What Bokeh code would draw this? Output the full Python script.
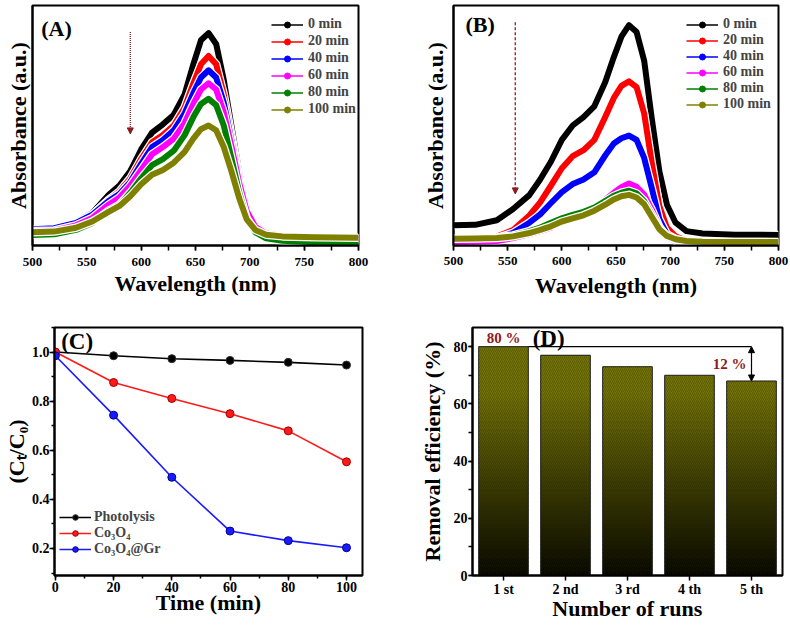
from bokeh.plotting import figure
from bokeh.layouts import column, row
from bokeh.models import (Legend, LegendItem, Arrow, NormalHead, Label, Range1d,
                          SingleIntervalTicker, FixedTicker, NumeralTickFormatter)
from bokeh.embed import file_html
from bokeh.resources import INLINE

FONT = "Liberation Serif"
NAN = float("nan")

# ---------------- data ----------------
wavelength = [500, 520, 540, 555, 570, 580, 590, 600, 610, 620, 630, 640, 648,
              655, 662, 669, 676, 683, 690, 697, 705, 715, 730, 760, 800]
time_labels = ["0 min", "20 min", "40 min", "60 min", "80 min", "100 min"]
series_colors = ["#000000", "#ff0000", "#0000ff", "#ff00ff", "#008000", "#808000"]

# (A) absorbance spectra, arbitrary units
abs_a_0 = [0.065, 0.068, 0.095, 0.135, 0.21, 0.25, 0.31, 0.40, 0.47, 0.505, 0.545, 0.63, 0.755,
           0.855, 0.885, 0.84, 0.69, 0.50, 0.31, 0.16, 0.085, 0.055, 0.042, 0.035, 0.03]
abs_a_20 = [0.062, 0.066, 0.09, 0.128, 0.19, 0.225, 0.28, 0.36, 0.43, 0.46, 0.50, 0.575, 0.675,
            0.755, 0.79, 0.755, 0.63, 0.46, 0.29, 0.155, 0.08, 0.05, 0.04, 0.032, 0.028]
abs_a_40 = [0.068, 0.072, 0.094, 0.128, 0.185, 0.215, 0.265, 0.34, 0.41, 0.44, 0.48, 0.55, 0.635,
            0.70, 0.73, 0.70, 0.595, 0.44, 0.28, 0.15, 0.08, 0.05, 0.04, 0.032, 0.027]
abs_a_60 = [0.06, 0.063, 0.084, 0.115, 0.17, 0.20, 0.25, 0.315, 0.38, 0.41, 0.445, 0.51, 0.59,
            0.65, 0.676, 0.65, 0.555, 0.415, 0.265, 0.145, 0.078, 0.05, 0.04, 0.032, 0.026]
abs_a_80 = [0.044, 0.047, 0.065, 0.094, 0.145, 0.17, 0.22, 0.28, 0.335, 0.36, 0.395, 0.46, 0.535,
            0.59, 0.611, 0.585, 0.50, 0.365, 0.225, 0.115, 0.055, 0.03, 0.02, 0.014, 0.012]
abs_a_100 = [0.055, 0.058, 0.074, 0.10, 0.14, 0.165, 0.205, 0.255, 0.295, 0.315, 0.345, 0.39, 0.445,
             0.485, 0.50, 0.48, 0.41, 0.31, 0.20, 0.11, 0.065, 0.045, 0.038, 0.034, 0.032]

# (B) absorbance spectra, arbitrary units
abs_b_0 = [0.084, 0.086, 0.105, 0.152, 0.21, 0.275, 0.35, 0.44, 0.50, 0.535, 0.58, 0.68, 0.785,
           0.87, 0.918, 0.89, 0.77, 0.53, 0.31, 0.17, 0.095, 0.06, 0.05, 0.045, 0.044]
abs_b_20 = [0.02, 0.022, 0.037, 0.065, 0.125, 0.18, 0.25, 0.322, 0.372, 0.397, 0.44, 0.535, 0.615,
            0.665, 0.684, 0.66, 0.55, 0.345, 0.165, 0.074, 0.038, 0.02, 0.015, 0.012, 0.01]
abs_b_40 = [0.02, 0.022, 0.03, 0.053, 0.095, 0.13, 0.177, 0.222, 0.256, 0.275, 0.305, 0.375, 0.425,
            0.447, 0.458, 0.44, 0.365, 0.24, 0.11, 0.047, 0.027, 0.016, 0.012, 0.01, 0.008]
abs_b_60 = [0.015, 0.016, 0.019, 0.031, 0.048, 0.06, 0.074, 0.102, 0.118, 0.137, 0.158, 0.19, 0.22,
            0.243, 0.258, 0.245, 0.212, 0.15, 0.078, 0.035, 0.018, 0.009, 0.007, 0.006, 0.005]
abs_b_80 = [0.03, 0.031, 0.033, 0.042, 0.06, 0.075, 0.095, 0.113, 0.128, 0.14, 0.158, 0.185, 0.207,
            0.22, 0.228, 0.217, 0.185, 0.13, 0.072, 0.04, 0.024, 0.016, 0.013, 0.012, 0.012]
abs_b_100 = [0.028, 0.029, 0.031, 0.038, 0.052, 0.065, 0.08, 0.10, 0.113, 0.126, 0.145, 0.17, 0.192,
             0.205, 0.211, 0.20, 0.172, 0.12, 0.068, 0.04, 0.026, 0.019, 0.016, 0.015, 0.015]

# (C) kinetics
time_min = [0, 20, 40, 60, 80, 100]
photolysis = [1.0, 0.985, 0.973, 0.966, 0.958, 0.947]
co3o4 = [1.0, 0.876, 0.811, 0.749, 0.679, 0.553]
co3o4_gr = [0.985, 0.743, 0.49, 0.271, 0.232, 0.203]
kinetic_names = ["Photolysis", "Co\u2083O\u2084", "Co\u2083O\u2084@Gr"]
kinetic_colors = ["#000000", "#ff1a1a", "#1a1aff"]
kinetic_edges = ["#333333", "#a00000", "#000090"]

# (D) reusability
runs = ["1 st", "2 nd", "3 rd", "4 th", "5 th"]
removal = [80, 77, 73, 70, 68]

DARK_RED = "#8e1c1c"
TOP_H, BOTTOM_H = 308, 317


def style(p, tick_size):
    for ax in p.axis:
        ax.axis_line_width = 2
        ax.axis_line_color = "black"
        ax.major_tick_line_width = 1.5
        ax.minor_tick_line_width = 1.5
        ax.major_tick_line_color = "black"
        ax.minor_tick_line_color = "black"
        ax.major_tick_in = 0
        ax.major_tick_out = 5
        ax.minor_tick_in = 0
        ax.minor_tick_out = 3
        ax.major_label_standoff = 2
        ax.major_label_text_font = FONT
        ax.major_label_text_font_style = "bold"
        ax.major_label_text_font_size = tick_size
        ax.major_label_text_color = "black"
        ax.axis_label_text_font = FONT
        ax.axis_label_text_font_style = "bold"
        ax.axis_label_text_font_size = "22px"
        ax.axis_label_text_color = "black"
    p.outline_line_color = "black"
    p.outline_line_width = 2
    p.outline_line_alpha = 1
    p.xgrid.visible = False
    p.ygrid.visible = False
    p.background_fill_color = "white"
    p.border_fill_color = "white"


def spectra_panel(curves, tag, tag_xy, borders, arrow_spec, legend_loc, dash, standoffs):
    left, right, top, bottom = borders
    p = figure(width=395, height=TOP_H, x_range=Range1d(500, 800), y_range=Range1d(0, 1),
               min_border_left=left, min_border_right=right, min_border_top=top,
               min_border_bottom=bottom, output_backend="svg", toolbar_location=None,
               x_axis_label="Wavelength (nm)", y_axis_label="Absorbance (a.u.)")
    style(p, "13px")
    p.xaxis.ticker = SingleIntervalTicker(interval=50, num_minor_ticks=2)
    p.xaxis.minor_tick_out = 5
    p.yaxis.ticker = FixedTicker(ticks=[], minor_ticks=[])
    p.yaxis.major_label_standoff = 0
    p.yaxis.major_tick_out = 0
    xs_tick, xs_label, ys_label = standoffs
    p.xaxis.major_label_standoff = xs_tick
    p.xaxis.axis_label_standoff = xs_label
    p.yaxis.axis_label_standoff = ys_label

    for vals, c in zip(curves, series_colors):
        p.line(wavelength, vals, line_color="white", line_width=8.5, line_join="round")
        p.line(wavelength, vals, line_color=c, line_width=6, line_join="round")

    items = []
    for name, c in zip(time_labels, series_colors):
        lr = p.line([NAN], [NAN], line_color=c, line_width=1.5)
        sr = p.scatter([NAN], [NAN], marker="circle", size=5, fill_color=c, line_color=c)
        items.append(LegendItem(label=name, renderers=[lr, sr]))
    leg_loc, leg_spacing = legend_loc
    leg = Legend(items=items, location=leg_loc, glyph_width=32, glyph_height=15,
                 label_height=15, spacing=leg_spacing, padding=2, margin=0, label_standoff=5,
                 label_text_font=FONT, label_text_font_style="bold",
                 label_text_font_size="14px", background_fill_alpha=0,
                 border_line_color=None)
    p.add_layout(leg)

    ax_x, ay0, ay1 = arrow_spec
    p.add_layout(Arrow(x_start=ax_x, y_start=ay0, x_end=ax_x, y_end=ay1,
                       line_color=DARK_RED, line_width=1.3, line_dash=dash,
                       end=NormalHead(size=6, fill_color=DARK_RED, line_color=DARK_RED)))
    p.add_layout(Label(x=tag_xy[0], y=tag_xy[1], text=tag, text_font=FONT,
                       text_font_style="bold", text_font_size="22px",
                       text_baseline="middle", text_color="black"))
    return p


pA = spectra_panel([abs_a_0, abs_a_20, abs_a_40, abs_a_60, abs_a_80, abs_a_100],
                   "(A)", (508, 0.906), (32, 37, 4, TOP_H - 245), (590, 0.89, 0.465),
                   ((239, 128), 1), "1 1", (7, 2, 2))
pB = spectra_panel([abs_b_0, abs_b_20, abs_b_40, abs_b_60, abs_b_80, abs_b_100],
                   "(B)", (511, 0.92), (58, 12, 5, TOP_H - 248), (557, 0.93, 0.215),
                   ((233, 133), 0), "3 2", (6, 5, 6))

# ---------------- (C) kinetics ----------------
pC = figure(width=395, height=BOTTOM_H, x_range=Range1d(-0.3, 105.5), y_range=Range1d(0.09, 1.10),
            min_border_left=53, min_border_right=33, min_border_top=19, min_border_bottom=49,
            output_backend="svg", toolbar_location=None,
            x_axis_label="Time (min)", y_axis_label="(C\u209c/C\u2080)")
style(pC, "14px")
pC.xaxis.ticker = SingleIntervalTicker(interval=20, num_minor_ticks=2)
pC.yaxis.ticker = SingleIntervalTicker(interval=0.2, num_minor_ticks=2)
pC.yaxis.formatter = NumeralTickFormatter(format="0.0")
pC.xaxis.major_label_standoff = 1
pC.yaxis.major_label_standoff = 0
pC.xaxis.axis_label_standoff = -5
pC.yaxis.axis_label_standoff = 0

c_items = []
for vals, name, c, ec in zip([photolysis, co3o4, co3o4_gr], kinetic_names,
                             kinetic_colors, kinetic_edges):
    lr = pC.line(time_min, vals, line_color=c, line_width=1.6)
    sr = pC.scatter(time_min, vals, marker="circle", size=8, fill_color=c,
                    line_color=ec, line_width=1)
    c_items.append(LegendItem(label=name, renderers=[lr, sr]))
c_leg = Legend(items=c_items, location=(5, 18), glyph_width=32, glyph_height=14,
               label_height=14, spacing=0, padding=2, margin=0, label_standoff=3,
               label_text_font=FONT, label_text_font_style="bold",
               label_text_font_size="14px", background_fill_alpha=0,
               border_line_color=None)
pC.add_layout(c_leg)
pC.add_layout(Label(x=2.0, y=1.043, text="(C)", text_font=FONT, text_font_style="bold",
                    text_font_size="23px", text_baseline="middle", text_color="black"))

# ---------------- (D) reusability ----------------
run_pos = list(range(1, len(runs) + 1))
bar_width = 0.8
pD = figure(width=395, height=BOTTOM_H, x_range=Range1d(0.5, 5.5), y_range=Range1d(0, 86.7),
            min_border_left=77, min_border_right=8, min_border_top=19, min_border_bottom=50,
            output_backend="svg", toolbar_location=None,
            x_axis_label="Number of runs", y_axis_label="Removal efficiency (%)")
style(pD, "14px")
pD.xaxis.ticker = FixedTicker(ticks=run_pos, minor_ticks=[])
pD.xaxis.major_label_overrides = {pos: name for pos, name in zip(run_pos, runs)}
pD.yaxis.ticker = SingleIntervalTicker(interval=20, num_minor_ticks=2)
pD.yaxis.major_tick_out = 4
pD.yaxis.minor_tick_out = 4
pD.xaxis.major_label_standoff = 1
pD.yaxis.major_label_standoff = 1
pD.xaxis.axis_label_standoff = -4
pD.yaxis.axis_label_standoff = 6

# bars filled with a black-to-olive gradient, built from thin slices of each bar
slice_x, slice_bottom, slice_top, slice_color = [], [], [], []
step = 1.5
for pos, v in zip(run_pos, removal):
    b = 0.0
    while b < v:
        t = min(b + step, v)
        f = min(((b + t) / 2) / 64.0, 1.0)
        r = int(round(4 + 112 * f))
        slice_x.append(pos)
        slice_bottom.append(b)
        slice_top.append(min(t + 0.5, v))
        slice_color.append("#%02x%02x%02x" % (r, r, int(round(6 * f))))
        b = t
pD.vbar(x=slice_x, bottom=slice_bottom, top=slice_top, width=bar_width,
        fill_color=slice_color, line_color=None)
pD.vbar(x=run_pos, top=removal, width=bar_width, fill_alpha=0,
        hatch_pattern="/", hatch_color="#262600", hatch_alpha=0.3, hatch_scale=4,
        hatch_weight=1, line_color="#1e1e1e", line_width=1)

# drop between first and last run
drop = removal[0] - removal[-1]
pD.segment(x0=[run_pos[0] + bar_width / 2], y0=[removal[0]], x1=[run_pos[-1]],
           y1=[removal[0]], line_color="black", line_width=1.2)
pD.add_layout(Arrow(x_start=run_pos[-1], y_start=removal[0], x_end=run_pos[-1],
                    y_end=removal[-1], line_color="black", line_width=1.2,
                    start=NormalHead(size=6, fill_color="black", line_color="black"),
                    end=NormalHead(size=6, fill_color="black", line_color="black")))
pD.add_layout(Label(x=run_pos[0], y=removal[0], text=f"{removal[0]} %", text_font=FONT,
                    text_font_style="bold", text_font_size="15px", text_color=DARK_RED,
                    text_align="center", text_baseline="bottom", y_offset=1))
pD.add_layout(Label(x=run_pos[-1], y=(removal[0] + removal[-1]) / 2, text=f"{drop} %",
                    text_font=FONT, text_font_style="bold", text_font_size="15px",
                    text_color=DARK_RED, text_align="right", text_baseline="middle",
                    x_offset=-5))
pD.add_layout(Label(x=1.47, y=83.0, text="(D)", text_font=FONT, text_font_style="bold",
                    text_font_size="23px", text_baseline="middle", text_color="black"))

layout = column(row(pA, pB, spacing=0), row(pC, pD, spacing=0), spacing=0)
open("out.html", "w").write(file_html(layout, INLINE))
